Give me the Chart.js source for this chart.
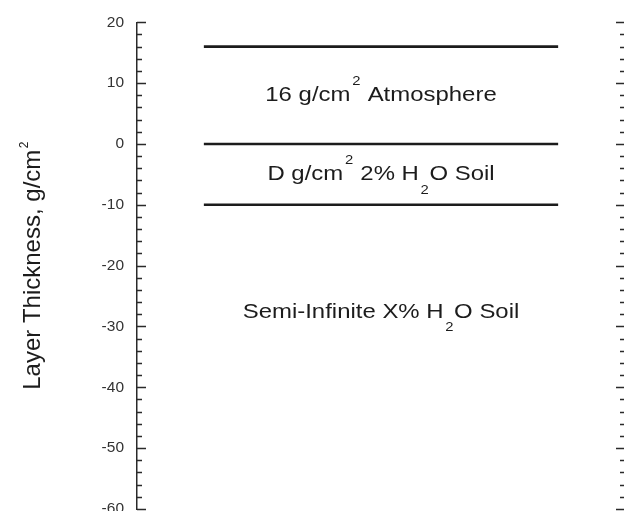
<!DOCTYPE html>
<html>
<head>
<meta charset="utf-8">
<script src="https://cdn.jsdelivr.net/npm/chart.js@4"></script>
<style>
  html, body { margin: 0; padding: 0; overflow: hidden; background: #fff; }
  #wrap { position: absolute; left: 0; top: 0; width: 640px; height: 540px; }
</style>
</head>
<body>
<div id="wrap"><canvas id="layers"></canvas></div>
<script>
// Layer boundaries (g/cm^2) and the horizontal span of each boundary line
const boundaryDepths = [16, 0, -10];
const boundarySpan = [13.7, 86.3];

// Vertical axis range and tick spacing
const yMin = -60;
const yMax = 20;
const majorStep = 10;
const minorStep = 2;

// Layer captions: baseline depth and rich-text pieces ('' normal, 'sup', 'sub')
const captionDepths = [7.0, -6.0, -28.6];
const captionParts = [
  [['16 g/cm', ''], ['2', 'sup'], [' Atmosphere', '']],
  [['D g/cm', ''], ['2', 'sup'], [' 2% H', ''], ['2', 'sub'], ['O Soil', '']],
  [['Semi-Infinite X% H', ''], ['2', 'sub'], ['O Soil', '']]
];
const axisTitleParts = [['Layer Thickness, g/cm', ''], ['2', 'sup']];

const FONT = '"Liberation Sans", Arial, Helvetica, sans-serif';
const INK = '#1c1c1c';

// Draws a string made of normal / superscript / subscript pieces, centred on x.
// st: { size, script, sup, sub, sx, gapL, gapR }
function drawRich(ctx, parts, x, y, st) {
  const pieces = parts.map(([text, kind]) => {
    ctx.font = (kind ? st.script : st.size) + 'px ' + FONT;
    const w = ctx.measureText(text).width;
    return { text, kind, w, padL: kind ? st.gapL : 0, padR: kind ? st.gapR : 0 };
  });
  const total = pieces.reduce((s, p) => s + p.w + p.padL + p.padR, 0);
  ctx.save();
  ctx.translate(x, y);
  ctx.scale(st.sx, 1);
  let cx = -total / 2;
  ctx.textAlign = 'left';
  ctx.textBaseline = 'alphabetic';
  pieces.forEach(p => {
    cx += p.padL;
    ctx.font = (p.kind ? st.script : st.size) + 'px ' + FONT;
    let dy = 0;
    if (p.kind === 'sup') dy = -st.sup;
    if (p.kind === 'sub') dy = st.sub;
    ctx.fillText(p.text, cx, dy);
    cx += p.w + p.padR;
  });
  ctx.restore();
}

const captionStyle = { size: 21, script: 13, sup: 16, sub: 13.5, sx: 1.14, gapL: 1.5, gapR: 0.5 };
const titleStyle = { size: 24, script: 12, sup: 11.5, sub: 0, sx: 1, gapL: 1.5, gapR: 0 };

// Inward tick marks on both vertical edges, plus layer captions and axis title
const layerDecor = {
  id: 'layerDecor',
  afterDatasetsDraw(chart) {
    const { ctx, chartArea: area, scales: { x, y } } = chart;
    ctx.save();
    ctx.strokeStyle = '#2a2a2a';
    ctx.lineWidth = 1.4;
    ctx.beginPath();
    for (let v = yMin; v <= yMax + 1e-9; v += minorStep) {
      const py = Math.round(y.getPixelForValue(v)) + 0.5;
      const len = (v % majorStep === 0) ? 9 : 5;
      ctx.moveTo(area.left, py);
      ctx.lineTo(area.left + len, py);
      ctx.moveTo(area.right, py);
      ctx.lineTo(area.right - len, py);
    }
    ctx.stroke();

    ctx.fillStyle = INK;
    const cxMid = x.getPixelForValue(50);
    captionParts.forEach((parts, i) => {
      drawRich(ctx, parts, cxMid, y.getPixelForValue(captionDepths[i]), captionStyle);
    });

    // Rotated axis title
    ctx.save();
    ctx.translate(area.left - 97.5, (area.top + area.bottom) / 2);
    ctx.rotate(-Math.PI / 2);
    drawRich(ctx, axisTitleParts, 0, 0, titleStyle);
    ctx.restore();
    ctx.restore();
  }
};

const datasets = boundaryDepths.map(d => ({
  data: [{ x: boundarySpan[0], y: d }, { x: boundarySpan[1], y: d }],
  showLine: true,
  borderColor: INK,
  borderWidth: 2.6,
  pointRadius: 0,
  fill: false
}));

new Chart(document.getElementById('layers'), {
  type: 'scatter',
  data: { datasets },
  options: {
    responsive: true,
    maintainAspectRatio: false,
    animation: false,
    events: [],
    layout: { padding: { left: 0, right: 15, top: 20.5, bottom: 31 } },
    plugins: { legend: { display: false }, tooltip: { enabled: false } },
    scales: {
      x: { type: 'linear', min: 0, max: 100, display: false },
      y: {
        type: 'linear',
        min: yMin,
        max: yMax,
        afterFit(scale) { scale.width = 137; },
        afterBuildTicks(scale) {
          const t = [];
          for (let v = yMax; v >= yMin; v -= majorStep) t.push({ value: v });
          scale.ticks = t.reverse();
        },
        grid: { display: false, drawTicks: false },
        border: { display: true, color: '#2a2a2a', width: 1.5 },
        ticks: {
          padding: 13,
          color: '#333',
          font: { family: FONT, size: 15.5 }
        }
      }
    }
  },
  plugins: [layerDecor]
});
</script>
</body>
</html>
